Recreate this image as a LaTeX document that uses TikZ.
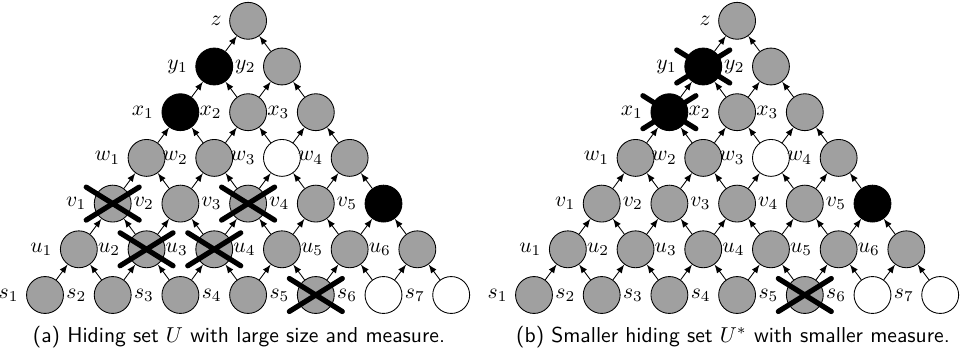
\documentclass[tikz,border=0pt]{standalone}
\usepackage{amsmath}
\usepackage{amssymb}

\definecolor{hidgray}{RGB}{160,160,160}

\tikzset{
  vert/.style={circle, draw, fill=hidgray, minimum size=17.1pt, inner sep=0pt, label distance=-2.2pt},
  col-x1/.style={fill=black},
  col-y1/.style={fill=black},
  col-v5/.style={fill=black},
  col-w3/.style={fill=white},
  col-s6/.style={fill=white},
  col-s7/.style={fill=white},
  feeds/.style={-latex},
  hide/.style={line width=2.4pt, line cap=round},
}

% one triangle of vertices, #1 = name prefix, #2 = x offset
\newcommand{\hidingdag}[2]{%
  \foreach \rw/\n/\k in {s/7/0, u/6/1, v/5/2, w/4/3, x/3/4, y/2/5}{
    \foreach \i in {1,...,\n}{
      \node[vert, col-\rw\i/.try, label=left:{$\rw_{\i}$}] (#1-\rw\i)
        at ({#2+45+33.85*\k+67.7*(\i-1)}, {60+45.7*\k}) {};
    }
  }
  \node[vert, label=left:{$z$}] (#1-z) at ({#2+248.1}, 334.2) {};
  \foreach \lo/\hi/\n in {s/u/6, u/v/5, v/w/4, w/x/3, x/y/2}{
    \foreach \j in {1,...,\n}{
      \pgfmathtruncatemacro{\jj}{\j+1}
      \draw[feeds] (#1-\lo\j) -- (#1-\hi\j);
      \draw[feeds] (#1-\lo\jj) -- (#1-\hi\j);
    }
  }
  \draw[feeds] (#1-y1) -- (#1-z);
  \draw[feeds] (#1-y2) -- (#1-z);
}

% thick cross over a hidden vertex
\newcommand{\hideit}[1]{%
  \draw[hide] ([shift={(-26.5,-16.5)}]#1.center) -- ([shift={(26.5,16.5)}]#1.center);
  \draw[hide] ([shift={(-26.5,16.5)}]#1.center) -- ([shift={(26.5,-16.5)}]#1.center);
}

\begin{document}
\begin{tikzpicture}[x=0.4635pt, y=0.4635pt]
  \useasboundingbox (0,0) rectangle (971,355);

  % (a) large hiding set
  \hidingdag{a}{0}
  \hideit{a-v1}
  \hideit{a-v3}
  \hideit{a-u2}
  \hideit{a-u3}
  \hideit{a-s5}
  \node[anchor=base, font=\sffamily] (cap-a) at (239,12.5)
    {(a) Hiding set $U$ with large size and measure.};

  % (b) smaller hiding set
  \hidingdag{b}{489}
  \hideit{b-y1}
  \hideit{b-x1}
  \hideit{b-s5}
  \node[anchor=base, font=\sffamily] (cap-b) at (733,12.5)
    {(b) Smaller hiding set $U^*$ with smaller measure.};
\end{tikzpicture}
\end{document}
